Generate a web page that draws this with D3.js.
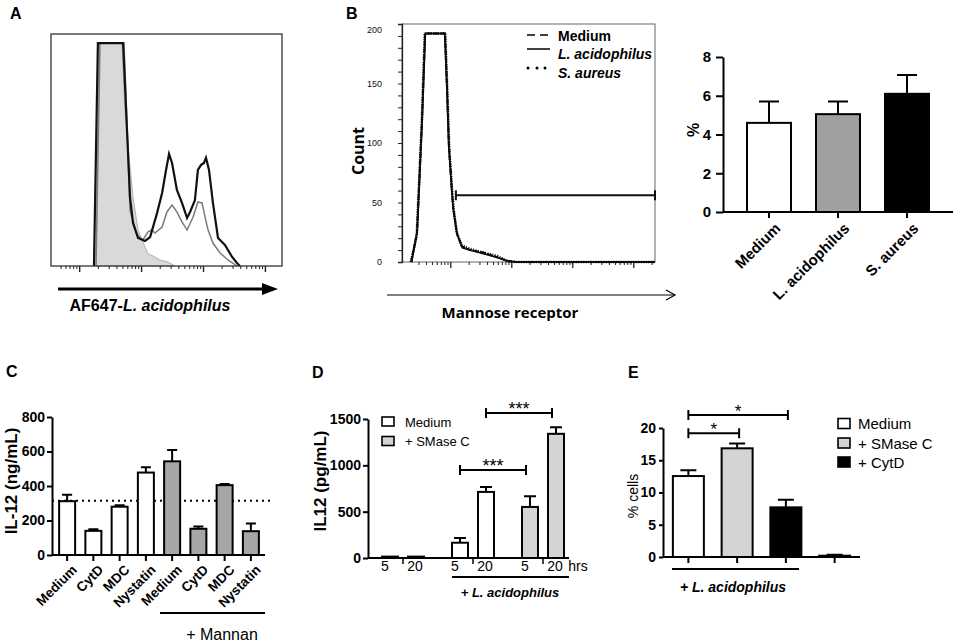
<!DOCTYPE html>
<html>
<head>
<meta charset="utf-8">
<script src="https://cdn.jsdelivr.net/npm/d3@7"></script>
<style>
body { margin: 0; background: #fff; }
svg { display: block; }
</style>
</head>
<body>
<svg id="fig" width="957" height="644"></svg>
<script>
// ---- data ----

// A: flow histograms, channel (0-100 along axis) vs count (% of axis height)
var histA_unstained = [[19.5,0],[20.8,96.1],[30.7,96.1],[32.0,67.2],[33.8,47.0],[35.5,29.7],[37.7,15.5],[40.7,8.2],[42.0,5.2],[44.2,4.3],[47.2,2.6],[50.6,1.7],[53.7,0]];
var histA_gray = [[19.5,0],[21.2,96.1],[31.6,96.1],[32.5,72.8],[34.2,24.1],[37.2,13.4],[39.8,11.2],[42.0,14.7],[43.7,15.5],[45.0,14.2],[48.1,16.8],[50.2,23.3],[52.4,26.3],[54.5,23.3],[56.7,19.0],[58.9,15.5],[61.5,21.1],[63.6,27.6],[65.4,27.2],[66.7,21.1],[68.0,15.5],[70.1,9.9],[73.2,5.6],[76.6,2.6],[80.5,0]];
var histA_black = [[18.6,0],[20.3,96.1],[31.2,96.1],[32.9,58.6],[34.2,29.7],[35.5,18.5],[37.7,12.1],[40.7,10.8],[42.9,12.5],[45.9,22.8],[48.1,31.5],[49.8,41.4],[51.1,48.3],[52.4,44.4],[54.5,32.8],[56.7,27.2],[58.9,20.7],[60.2,23.3],[62.3,28.4],[63.6,41.4],[64.9,43.5],[66.2,44.4],[67.1,46.6],[68.4,41.4],[70.1,27.2],[72.3,12.1],[75.3,9.1],[78.4,3.9],[80.5,1.3],[81.8,0]];

// B: mannose receptor histograms (channel 0-100, count)
var histB_medium = [[3.6,0],[5.9,24],[7.9,119],[9.1,192],[17.0,192],[17.8,147],[18.6,96],[19.8,58],[20.2,46],[21.7,24],[23.7,13],[26.9,10],[32.0,8],[37.5,4],[41.5,1],[44.7,0],[100,0]];
var histB_lacid = [[3.8,0],[6.0,26],[8.0,121],[9.2,192],[16.9,192],[17.7,150],[18.5,98],[19.7,60],[20.3,44],[21.8,23],[23.9,12],[27.0,10],[32.2,7],[37.3,4],[41.8,1],[45.0,0],[100,0]];
var histB_saureus = [[3.5,0],[5.8,22],[7.8,117],[9.0,192],[17.1,192],[17.9,145],[18.7,94],[19.9,57],[20.4,45],[21.6,25],[23.6,14],[26.8,11],[31.8,8],[37.7,5],[41.3,1],[44.5,0],[100,0]];
var gateB_range = [21.3, 100];
var gateB_count = 56;

// B right: % positive
var catsB = ["Medium", "L. acidophilus", "S. aureus"];
var meanB = [4.6, 5.05, 6.1];
var semB = [1.1, 0.65, 0.97];

// C: IL-12 (ng/mL)
var catsC = ["Medium", "CytD", "MDC", "Nystatin", "Medium", "CytD", "MDC", "Nystatin"];
var meanC = [312, 140, 280, 478, 543, 152, 405, 138];
var semC = [38, 10, 8, 30, 66, 13, 7, 45];
var mannanC = [false, false, false, false, true, true, true, true];
var refC = 314;

// D: IL12 (pg/mL)
var groupD = ["none", "none", "lacid", "lacid", "smase", "smase"];
var hrsD = ["5", "20", "5", "20", "5", "20"];
var meanD = [15, 15, 165, 713, 551, 1340];
var semD = [0, 0, 52, 53, 116, 70];
var sigD = [[3, 5, 1564, "***"], [2, 4, 950, "***"]];

// E: % cells
var catsE = ["Medium", "+ SMase C", "+ CytD", "none"];
var meanE = [12.55, 16.85, 7.7, 0.2];
var semE = [0.9, 0.75, 1.17, 0.15];
var sigE = [[0, 1, 19.2, "*"], [0, 2, 22.0, "*"]];

// ---- drawing ----
var font = '"Liberation Sans", Arial, sans-serif';
var svg = d3.select("#fig").attr("font-family", font);

function label(x, y, t) {
    svg.append("text").attr("x", x).attr("y", y).attr("font-size", 16)
        .attr("font-weight", "bold").text(t);
}

function styleAxis(sel, size, bold) {
    sel.select(".domain").attr("stroke", "#000").attr("stroke-width", 2);
    sel.selectAll(".tick line").attr("stroke", "#000").attr("stroke-width", 2);
    sel.selectAll(".tick text").attr("font-size", size).attr("font-family", font)
        .attr("font-weight", bold ? "bold" : "normal").attr("fill", "#000");
}

// log-decade tick positions for the flow axes
function decadeTicks(first, width, lo, hi) {
    var major = [], minor = [];
    for (var d = first; d < hi; d += width) {
        for (var k = 1; k <= 9; k++) {
            var v = d + Math.log10(k) * width;
            if (v < lo || v > hi) continue;
            (k === 1 ? major : minor).push(v);
        }
    }
    return {major: major, minor: minor};
}

function errBars(g, data, sem, cx, y, cap) {
    g.selectAll(null).data(data).enter().append("path")
        .attr("d", function(d, i) {
            if (!sem[i]) return null;
            var x = cx(i), y0 = y(d), y1 = y(d + sem[i]);
            return "M" + x + "," + y0 + "V" + y1 + "M" + (x - cap / 2) + "," + y1 + "H" + (x + cap / 2);
        })
        .attr("fill", "none").attr("stroke", "#000").attr("stroke-width", 2);
}

function bracket(g, x1, x2, y, t, fs) {
    g.append("path").attr("d", "M" + x1 + "," + y + "H" + x2 + "M" + x1 + "," + (y - 5) + "V" + (y + 5) + "M" + x2 + "," + (y - 5) + "V" + (y + 5))
        .attr("stroke", "#000").attr("stroke-width", 2).attr("fill", "none");
    g.append("text").attr("x", (x1 + x2) / 2).attr("y", y + 2).attr("text-anchor", "middle")
        .attr("font-size", fs).text(t);
}

// ========== A ==========
label(10, 19, "A");
var xA = d3.scaleLinear().domain([0, 100]).range([51, 282]);
var yA = d3.scaleLinear().domain([0, 100]).range([266, 34]);
var gA = svg.append("g");
gA.append("path").datum(histA_unstained)
    .attr("d", d3.area().x(function(d) { return xA(d[0]); }).y0(yA(0)).y1(function(d) { return yA(d[1]); }))
    .attr("fill", "#d9d9d9").attr("stroke", "#b0b0b0").attr("stroke-width", 1);
gA.append("path").datum(histA_gray)
    .attr("d", d3.line().x(function(d) { return xA(d[0]); }).y(function(d) { return yA(d[1]); }))
    .attr("fill", "none").attr("stroke", "#7a7a7a").attr("stroke-width", 1.5);
gA.append("path").datum(histA_black)
    .attr("d", d3.line().x(function(d) { return xA(d[0]); }).y(function(d) { return yA(d[1]); }))
    .attr("fill", "none").attr("stroke", "#111").attr("stroke-width", 2.2);
gA.append("rect").attr("x", xA(0)).attr("y", yA(100)).attr("width", xA(100) - xA(0)).attr("height", yA(0) - yA(100))
    .attr("fill", "none").attr("stroke", "#333").attr("stroke-width", 1.3);
var tA = decadeTicks(-14.6, 26.8, 4, 99);
gA.append("g").attr("transform", "translate(0," + yA(0) + ")")
    .call(d3.axisBottom(xA).tickValues(tA.minor).tickSize(3).tickFormat(""))
    .call(function(s) { s.select(".domain").remove(); s.selectAll("line").attr("stroke", "#222"); });
gA.append("g").attr("transform", "translate(0," + yA(0) + ")")
    .call(d3.axisBottom(xA).tickValues(tA.major).tickSize(6).tickFormat(""))
    .call(function(s) { s.select(".domain").remove(); s.selectAll("line").attr("stroke", "#222").attr("stroke-width", 1.4); });
gA.append("line").attr("x1", 58).attr("x2", 264).attr("y1", 289).attr("y2", 289)
    .attr("stroke", "#000").attr("stroke-width", 3);
gA.append("path").attr("d", "M262,283L278,289L262,295Z").attr("fill", "#000");
var tAx = gA.append("text").attr("x", 150).attr("y", 311).attr("text-anchor", "middle")
    .attr("font-size", 16).attr("font-weight", "bold");
tAx.append("tspan").text("AF647-");
tAx.append("tspan").attr("font-style", "italic").text("L. acidophilus");

// ========== B histogram ==========
label(346, 19, "B");
var xB = d3.scaleLinear().domain([0, 100]).range([402, 655]);
var yB = d3.scaleLinear().domain([0, 200]).range([262, 24]);
var gB = svg.append("g");
gB.append("rect").attr("x", xB(0)).attr("y", yB(200)).attr("width", xB(100) - xB(0)).attr("height", yB(0) - yB(200))
    .attr("fill", "none").attr("stroke", "#666").attr("stroke-width", 1);
var yAxB = gB.append("g").attr("transform", "translate(" + xB(0) + ",0)")
    .call(d3.axisLeft(yB).tickValues(d3.range(0, 201, 10)).tickSize(4).tickPadding(16)
        .tickFormat(function(d) { return d % 50 === 0 ? d : ""; }));
yAxB.select(".domain").attr("stroke", "#222").attr("stroke-width", 1.3);
yAxB.selectAll(".tick line").attr("stroke", "#222");
yAxB.selectAll(".tick text").attr("font-size", 9).attr("font-family", font).attr("fill", "#111");
yAxB.selectAll(".tick text").filter(function(d) { return d === 200; }).attr("dy", "0.9em");
var tB = decadeTicks(-5.0, 24.1, 3, 99.5);
gB.append("g").attr("transform", "translate(0," + yB(0) + ")")
    .call(d3.axisBottom(xB).tickValues(tB.minor).tickSize(3).tickFormat(""))
    .call(function(s) { s.select(".domain").remove(); s.selectAll("line").attr("stroke", "#222"); });
gB.append("g").attr("transform", "translate(0," + yB(0) + ")")
    .call(d3.axisBottom(xB).tickValues(tB.major).tickSize(6).tickFormat(""))
    .call(function(s) { s.select(".domain").remove(); s.selectAll("line").attr("stroke", "#222").attr("stroke-width", 1.3); });
var lineB = d3.line().x(function(d) { return xB(d[0]); }).y(function(d) { return yB(d[1]); });
gB.append("path").datum(histB_medium).attr("d", lineB).attr("fill", "none")
    .attr("stroke", "#000").attr("stroke-width", 2).attr("stroke-dasharray", "5,2");
gB.append("path").datum(histB_lacid).attr("d", lineB).attr("fill", "none")
    .attr("stroke", "#111").attr("stroke-width", 1.8);
gB.append("path").datum(histB_saureus).attr("d", lineB).attr("fill", "none")
    .attr("stroke", "#000").attr("stroke-width", 2.6).attr("stroke-dasharray", "1,1.5");
// gate
var gy = yB(gateB_count);
gB.append("path")
    .attr("d", "M" + xB(gateB_range[0]) + "," + gy + "H" + xB(gateB_range[1]) +
        "M" + xB(gateB_range[0]) + "," + (gy - 5) + "V" + (gy + 5) +
        "M" + xB(gateB_range[1]) + "," + (gy - 5) + "V" + (gy + 5))
    .attr("stroke", "#111").attr("stroke-width", 2).attr("fill", "none");
// legend
gB.append("line").attr("x1", 527).attr("x2", 550).attr("y1", 35).attr("y2", 35)
    .attr("stroke", "#000").attr("stroke-width", 1.5).attr("stroke-dasharray", "8,5");
gB.append("line").attr("x1", 527).attr("x2", 550).attr("y1", 49).attr("y2", 49)
    .attr("stroke", "#000").attr("stroke-width", 1.5);
gB.selectAll(null).data([528, 537, 545]).enter().append("circle")
    .attr("cx", function(d) { return d; }).attr("cy", 68).attr("r", 1.5).attr("fill", "#000");
var legB = [["Medium", "normal", 41], ["L. acidophilus", "italic", 59], ["S. aureus", "italic", 78]];
gB.selectAll(null).data(legB).enter().append("text")
    .attr("x", 558).attr("y", function(d) { return d[2]; })
    .attr("font-size", 14).attr("font-weight", "bold")
    .attr("font-style", function(d) { return d[1]; }).text(function(d) { return d[0]; });
gB.append("text").attr("transform", "translate(364,151) rotate(-90)").attr("text-anchor", "middle")
    .attr("font-family", '"Open Sans", sans-serif').attr("font-weight", "bold").attr("font-size", 16).text("Count");
gB.append("line").attr("x1", 387).attr("x2", 675).attr("y1", 295).attr("y2", 295)
    .attr("stroke", "#000").attr("stroke-width", 1.2);
gB.append("path").attr("d", "M666,290L675,295L666,300").attr("fill", "none").attr("stroke", "#000").attr("stroke-width", 1.2);
gB.append("text").attr("x", 510).attr("y", 318).attr("text-anchor", "middle")
    .attr("font-family", '"Open Sans", sans-serif').attr("font-weight", "bold").attr("font-size", 15)
    .text("Mannose receptor");

// ========== B bars ==========
var xB2 = d3.scaleBand().domain(catsB).range([734.5, 941.5]);
var yB2 = d3.scaleLinear().domain([0, 8]).range([212, 57]);
var gB2 = svg.append("g");
var cxB2 = function(i) { return xB2(catsB[i]) + xB2.bandwidth() / 2; };
errBars(gB2, meanB, semB, cxB2, yB2, 20);
gB2.selectAll(null).data(meanB).enter().append("rect")
    .attr("x", function(d, i) { return cxB2(i) - 22; }).attr("width", 44)
    .attr("y", function(d) { return yB2(d); }).attr("height", function(d) { return yB2(0) - yB2(d); })
    .attr("fill", function(d, i) { return ["#fff", "#a0a0a0", "#000"][i]; })
    .attr("stroke", "#000").attr("stroke-width", 2);
styleAxis(gB2.append("g").attr("transform", "translate(723,0)")
    .call(d3.axisLeft(yB2).ticks(4).tickSize(7).tickPadding(5).tickSizeOuter(0)), 15, true);
gB2.append("line").attr("x1", 723).attr("x2", 953).attr("y1", yB2(0)).attr("y2", yB2(0))
    .attr("stroke", "#000").attr("stroke-width", 2);
var xaxB2 = gB2.append("g").attr("transform", "translate(0," + yB2(0) + ")")
    .call(d3.axisBottom(xB2).tickSize(6).tickFormat(""));
xaxB2.select(".domain").remove();
xaxB2.selectAll(".tick line").attr("stroke", "#000").attr("stroke-width", 2);
gB2.selectAll(null).data(catsB).enter().append("text")
    .attr("transform", function(d, i) { return "translate(" + (cxB2(i) + 5) + ",222) rotate(-45)"; })
    .attr("text-anchor", "end").attr("dy", "0.7em").attr("font-size", 15).attr("font-weight", "bold").text(function(d) { return d; });
gB2.append("text").attr("transform", "translate(699,130) rotate(-90)").attr("text-anchor", "middle")
    .attr("font-size", 16).attr("font-weight", "bold").text("%");

// ========== C ==========
label(6, 377, "C");
var xC = d3.scaleBand().domain(d3.range(catsC.length)).range([54, 264]);
var yC = d3.scaleLinear().domain([0, 800]).range([555, 417]);
var gC = svg.append("g");
var cxC = function(i) { return xC(i) + xC.bandwidth() / 2; };
gC.append("line").attr("x1", 52).attr("x2", 273).attr("y1", yC(refC)).attr("y2", yC(refC))
    .attr("stroke", "#000").attr("stroke-width", 2).attr("stroke-dasharray", "2,4");
errBars(gC, meanC, semC, cxC, yC, 10);
gC.selectAll(null).data(meanC).enter().append("rect")
    .attr("x", function(d, i) { return cxC(i) - 8; }).attr("width", 16)
    .attr("y", function(d) { return yC(d); }).attr("height", function(d) { return yC(0) - yC(d); })
    .attr("fill", function(d, i) { return mannanC[i] ? "#a6a6a6" : "#fff"; })
    .attr("stroke", "#000").attr("stroke-width", 2);
styleAxis(gC.append("g").attr("transform", "translate(52,0)")
    .call(d3.axisLeft(yC).ticks(4).tickSize(5).tickPadding(2).tickSizeOuter(0)), 14, true);
gC.append("line").attr("x1", 52).attr("x2", 265).attr("y1", yC(0)).attr("y2", yC(0))
    .attr("stroke", "#000").attr("stroke-width", 2);
var xaxC = gC.append("g").attr("transform", "translate(0," + yC(0) + ")")
    .call(d3.axisBottom(xC).tickSize(6).tickFormat(""));
xaxC.select(".domain").remove();
xaxC.selectAll(".tick line").attr("stroke", "#000").attr("stroke-width", 2);
gC.selectAll(null).data(catsC).enter().append("text")
    .attr("transform", function(d, i) { return "translate(" + (cxC(i) + 4) + ",564) rotate(-45)"; })
    .attr("text-anchor", "end").attr("dy", "0.7em").attr("font-size", 13.5).attr("font-weight", "bold").text(function(d) { return d; });
gC.append("line").attr("x1", 160).attr("x2", 265).attr("y1", 613).attr("y2", 613)
    .attr("stroke", "#000").attr("stroke-width", 2);
gC.append("text").attr("x", 222).attr("y", 640).attr("text-anchor", "middle").attr("font-size", 16).text("+ Mannan");
gC.append("text").attr("transform", "translate(17,481) rotate(-90)").attr("text-anchor", "middle")
    .attr("font-size", 17).attr("font-weight", "bold").text("IL-12 (ng/mL)");

// ========== D ==========
label(312, 378, "D");
var xD = d3.scaleBand().domain(["none", "lacid", "smase"]).range([368, 578]);
var yD = d3.scaleLinear().domain([0, 1500]).range([558, 419]);
var gD = svg.append("g");
var cxD = function(i) { return xD(groupD[i]) + xD.bandwidth() / 2 + (hrsD[i] === "5" ? -13 : 13); };
errBars(gD, meanD, semD, cxD, yD, 12);
gD.selectAll(null).data(meanD).enter().append("rect")
    .attr("x", function(d, i) { return cxD(i) - 8; }).attr("width", 16)
    .attr("y", function(d) { return yD(d); }).attr("height", function(d) { return yD(0) - yD(d); })
    .attr("fill", function(d, i) { return groupD[i] === "smase" ? "#d4d4d4" : "#fff"; })
    .attr("stroke", "#000").attr("stroke-width", 2);
styleAxis(gD.append("g").attr("transform", "translate(368,0)")
    .call(d3.axisLeft(yD).tickValues([0, 500, 1000, 1500]).tickFormat(d3.format("d"))
        .tickSize(5).tickPadding(2).tickSizeOuter(0)), 14, true);
gD.append("line").attr("x1", 368).attr("x2", 569).attr("y1", yD(0)).attr("y2", yD(0))
    .attr("stroke", "#000").attr("stroke-width", 2);
var xaxD = gD.append("g").attr("transform", "translate(0," + (yD(0) + 1) + ")")
    .call(d3.axisBottom(xD).tickSize(5).tickFormat(""));
xaxD.select(".domain").remove();
xaxD.selectAll(".tick line").attr("stroke", "#000").attr("stroke-width", 1.5);
gD.selectAll(null).data(hrsD).enter().append("text")
    .attr("x", function(d, i) { return cxD(i) + (d === "5" ? -5 : -1); }).attr("y", 571)
    .attr("text-anchor", "middle").attr("font-size", 14).text(function(d) { return d; });
gD.append("text").attr("x", 578).attr("y", 571).attr("text-anchor", "middle").attr("font-size", 14).text("hrs");
sigD.forEach(function(s) { bracket(gD, cxD(s[0]), cxD(s[1]) - 4, yD(s[2]), s[3], 18); });
gD.append("line").attr("x1", 452).attr("x2", 569).attr("y1", 577).attr("y2", 577)
    .attr("stroke", "#000").attr("stroke-width", 2);
gD.append("text").attr("x", 510).attr("y", 597).attr("text-anchor", "middle").attr("font-size", 13)
    .attr("font-weight", "bold").attr("font-style", "italic").text("+ L. acidophilus");
gD.append("text").attr("transform", "translate(326,481) rotate(-90)").attr("text-anchor", "middle")
    .attr("font-size", 17).attr("font-weight", "bold").text("IL12 (pg/mL)");
var legD = [["Medium", "#fff", 421.5], ["+ SMase C", "#d4d4d4", 441]];
gD.selectAll(null).data(legD).enter().append("rect")
    .attr("x", 382).attr("y", function(d) { return d[2] - 4.5; }).attr("width", 12).attr("height", 9)
    .attr("fill", function(d) { return d[1]; }).attr("stroke", "#000").attr("stroke-width", 1.6);
gD.selectAll(null).data(legD).enter().append("text")
    .attr("x", 405).attr("y", function(d) { return d[2] + 5; }).attr("font-size", 13).text(function(d) { return d[0]; });

// ========== E ==========
label(628, 378, "E");
var xE = d3.scaleBand().domain(catsE).range([664, 859]);
var yE = d3.scaleLinear().domain([0, 20]).range([557, 428]);
var gE = svg.append("g");
var cxE = function(i) { return xE(catsE[i]) + xE.bandwidth() / 2; };
errBars(gE, meanE, semE, cxE, yE, 16);
gE.selectAll(null).data(meanE).enter().append("rect")
    .attr("x", function(d, i) { return cxE(i) - 15.5; }).attr("width", 31)
    .attr("y", function(d) { return yE(d); }).attr("height", function(d) { return yE(0) - yE(d); })
    .attr("fill", function(d, i) { return ["#fff", "#d4d4d4", "#000", "#fff"][i]; })
    .attr("stroke", "#000").attr("stroke-width", 2);
styleAxis(gE.append("g").attr("transform", "translate(663,0)")
    .call(d3.axisLeft(yE).ticks(4).tickSize(4).tickPadding(3).tickSizeOuter(0)), 14, true);
gE.append("line").attr("x1", 663).attr("x2", 860).attr("y1", yE(0)).attr("y2", yE(0))
    .attr("stroke", "#000").attr("stroke-width", 2);
var xaxE = gE.append("g").attr("transform", "translate(0," + yE(0) + ")")
    .call(d3.axisBottom(xE).tickSize(6).tickFormat(""));
xaxE.select(".domain").remove();
xaxE.selectAll(".tick line").attr("stroke", "#000").attr("stroke-width", 2);
sigE.forEach(function(s) { bracket(gE, cxE(s[0]), cxE(s[1]) + 2, yE(s[2]), s[3], 17); });
gE.append("line").attr("x1", 672).attr("x2", 799).attr("y1", 569).attr("y2", 569)
    .attr("stroke", "#000").attr("stroke-width", 2);
gE.append("text").attr("x", 733).attr("y", 592).attr("text-anchor", "middle").attr("font-size", 14)
    .attr("font-weight", "bold").attr("font-style", "italic").text("+ L. acidophilus");
gE.append("text").attr("transform", "translate(638,496) rotate(-90)").attr("text-anchor", "middle")
    .attr("font-size", 14).text("% cells");
var legE = [["Medium", "#fff", 423.5], ["+ SMase C", "#d4d4d4", 443], ["+ CytD", "#000", 462]];
gE.selectAll(null).data(legE).enter().append("rect")
    .attr("x", 838).attr("y", function(d) { return d[2] - 5; }).attr("width", 12).attr("height", 10)
    .attr("fill", function(d) { return d[1]; }).attr("stroke", "#000").attr("stroke-width", 1.6);
gE.selectAll(null).data(legE).enter().append("text")
    .attr("x", 858).attr("y", function(d) { return d[2] + 5.5; }).attr("font-size", 15).text(function(d) { return d[0]; });
</script>
</body>
</html>
